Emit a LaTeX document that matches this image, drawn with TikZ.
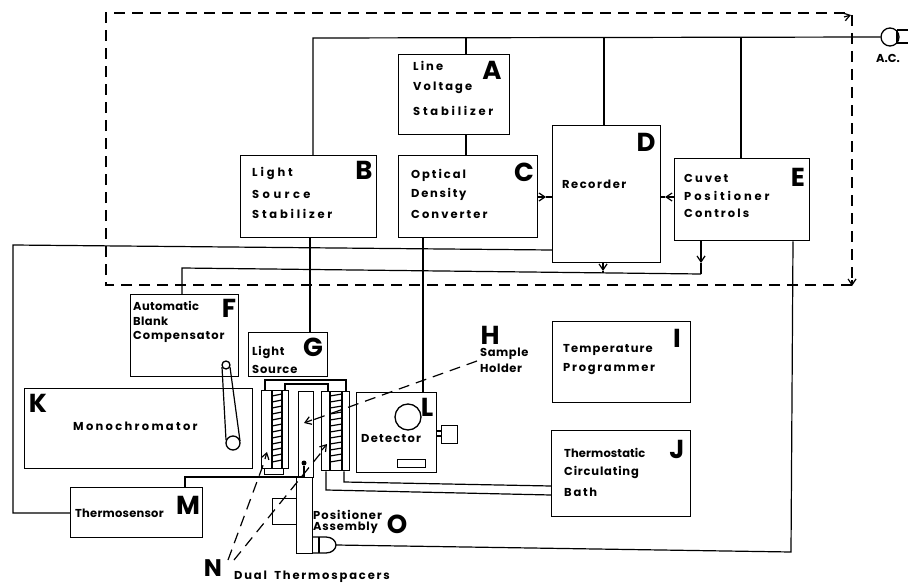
\documentclass[tikz,border=0pt]{standalone}
\usepackage{fontspec}
\setmainfont{Poppins}
\newfontfamily\bigfont{Poppins}
\usetikzlibrary{arrows.meta}
\tikzset{
  box/.style={draw,line width=1.3pt,rectangle,inner sep=0pt,anchor=north west},
  wire/.style={line width=1.2pt},
  dash line/.style={line width=1.2pt,dash pattern=on 11pt off 7pt},
  tip/.style={-{Straight Barb[length=6pt,width=8pt,line width=1.2pt]}},
  lab/.style={anchor=west,inner sep=0pt,font=\fontsize{11.5}{13}\selectfont\bfseries\addfontfeature{LetterSpace=#1}},
  lbl/.style={inner sep=0pt,font=\bigfont\fontsize{26}{26}\selectfont\bfseries}
}
\newcommand{\bx}[5]{\node[box,minimum width={(#4-#2)*1pt},minimum height={(#5-#3)*1pt}] (#1) at (#2,#3) {};}
\begin{document}
\begin{tikzpicture}[x=1pt,y=-1pt]
\useasboundingbox (0,0) rectangle (908,586);
% boxes
\bx{A}{398}{54}{509}{134}
\bx{B}{240}{155}{376}{237}
\bx{C}{398}{155}{537}{237}
\bx{D}{552}{125}{660}{262}
\bx{E}{674}{158}{809}{240}
\bx{F}{130}{294}{238}{376}
\bx{G}{248}{332}{327}{376}
\bx{I}{552}{321}{690}{402}
\bx{J}{551}{430}{690}{516}
\bx{K}{24}{388}{252}{468}
\bx{L}{356}{392}{436}{472}
\bx{M}{70}{487}{202}{537}
\bx{LH}{261}{390}{288}{468}
\bx{RH}{321}{391}{349}{470}
\bx{LF}{264}{468}{283}{474}
\bx{HU}{298}{391}{313}{477}
\bx{PA}{296}{477}{312}{553}
\bx{PS}{272}{498}{296}{524}
\bx{DS}{441}{425}{457}{443}
\bx{DW}{397}{459}{425}{467}
\node[draw,circle,line width=1.3pt,minimum size=26pt,inner sep=0pt] (DC) at (408,417) {};
\node[draw,circle,line width=1.3pt,minimum size=18pt,inner sep=0pt] (AC) at (890,37) {};
\node[draw,circle,line width=1.3pt,minimum size=8pt,inner sep=0pt] (PU) at (226,365) {};
\node[draw,circle,line width=1.3pt,minimum size=14pt,inner sep=0pt] (PD) at (233,443) {};
\node[fill,circle,minimum size=5pt,inner sep=0pt] (dot) at (304,463) {};
% coils
\draw[line width=1.2pt] (272,391) -- (272,468) (282,391) -- (282,468);
\draw[line width=1.2pt] (330,392) -- (330,470) (342,392) -- (342,470);
\foreach \yy in {395,401,...,465}{
  \draw[line width=1.2pt] (272,\yy+1) -- (282,\yy-1);
  \draw[line width=1.2pt] (330,\yy+1) -- (342,\yy-1);
}
% link belt
\draw[line width=1.2pt] (222,367) -- (226,440) (230,367) -- (240,441);
% power bus
\coordinate (bus) at (313,38);
\draw[wire] (B.north -| bus) -- (bus) -- (AC.west);
\draw[wire] (466,0 |- bus) -- (466,0 |- A.north);
\draw[wire] (604,0 |- bus) -- (604,0 |- D.north);
\draw[wire] (741,0 |- bus) -- (741,0 |- E.north);
\draw[wire] (897,30) -- (908,30) (897,43) -- (908,43) (897,30) -- (897,43);
% links
\draw[wire] (466,0 |- A.south) -- (466,0 |- C.north);
\draw[wire] (310,0 |- B.south) -- (310,0 |- G.north);
\draw[wire] (423,0 |- C.south) -- (423,0 |- L.north);
\draw[wire,tip] (C.east |- 0,197) -- (546,197);
\draw[wire] (546,197) -- (D.west |- 0,197);
\draw[wire,tip] (E.west |- 0,197) -- (665,197);
\draw[wire] (665,197) -- (D.east |- 0,197);
\draw[wire] (D.west |- 0,250) -- (13,245) -- (13,513) -- (M.west |- 0,513);
\coordinate (ftop) at (182,268);
\draw[wire] (182,0 |- F.north) -- (ftop) -- (701,274);
\draw[wire,tip] (701,0 |- E.south) -- (701,263);
\draw[wire] (701,263) -- (701,274);
\draw[wire,tip] (603,0 |- D.south) -- (603,271);
\draw[wire] (603,271) -- (603,273);
\draw[wire] (793,0 |- E.south) -- (791,552) -- (336,545);
% heater wiring
\draw[wire] (265,0 |- LH.north) -- (265,380) -- (346,380) -- (346,0 |- RH.north);
\draw[wire] (285,0 |- LH.north) -- (285,384) -- (328,384) -- (328,0 |- RH.north);
\draw[wire] (344,0 |- RH.south) -- (344,482) -- (J.west |- 0,486);
\draw[wire] (326,0 |- RH.south) -- (326,490) -- (J.west |- 0,495);
\draw[wire] (185,0 |- M.north) -- (185,477) -- (304,477) -- (dot);
% detector stub
\draw[wire] (L.east |- 0,431) -- (DS.west |- 0,431) (L.east |- 0,436) -- (DS.west |- 0,436);
% motor
\draw[line width=1.3pt] (312,537) -- (326,537) .. controls (332,537) and (336,541) .. (336,545) .. controls (336,549) and (332,553) .. (326,553) -- (312,553);
\draw[line width=1.3pt] (319,537) -- (319,553);
% dashed enclosure
\draw[dash line] (852,285) -- (106,285) -- (106,13) -- (852,13);
\draw[dash line] (852,15) -- (852,285);
\draw[wire,tip] (844,17) -- (851,15);
\draw[wire,tip] (852,280) -- (852,286);
% dashed pointers
\draw[dash line] (477,361) -- (310,421);
\draw[wire,tip] (312,420) -- (304,423);
\draw[dash line] (228,560) -- (265,460);
\draw[wire,tip] (265,459) -- (267,452);
\draw[dash line] (234,560) -- (324,449);
\draw[wire,tip] (322,450) -- (327,444);
% box letters
\node[lbl] (tA) at (492,70) {A};
\node[lbl] (tB) at (364,170) {B};
\node[lbl] (tC) at (524,172) {C};
\node[lbl] (tD) at (646,142) {D};
\node[lbl] (tE) at (798,177) {E};
\node[lbl] (tF) at (229,308) {F};
\node[lbl] (tG) at (313,347) {G};
\node[lbl] (tH) at (490,335) {H};
\node[lbl] (tI) at (677,338) {I};
\node[lbl] (tJ) at (677,449) {J};
\node[lbl] (tK) at (38,403) {K};
\node[lbl] (tL) at (427,407) {L};
\node[lbl] (tM) at (188,505) {M};
\node[lbl,font=\bigfont\fontsize{24}{24}\selectfont\bfseries] (tN) at (213,568) {N};
\node[lbl] (tO) at (397,524) {O};
% labels
\node[lab=18] (a1) at (413,66) {Line};
\node[lab=18] (a2) at (413,88) {Voltage};
\node[lab=24] (a3) at (413,111) {Stabilizer};
\node[lab=25] (b1) at (252,173) {Light};
\node[lab=30] (b2) at (252,194) {Source};
\node[lab=24] (b3) at (252,214) {Stabilizer};
\node[lab=17] (c1) at (411,175) {Optical};
\node[lab=15] (c2) at (411,194) {Density};
\node[lab=18] (c3) at (411,214) {Converter};
\node[lab=13] (d1) at (562,184) {Recorder};
\node[lab=19] (e1) at (684,178) {Cuvet};
\node[lab=25] (e2) at (684,196) {Positioner};
\node[lab=18] (e3) at (684,213) {Controls};
\node[lab=3] (f1) at (133,306) {Automatic};
\node[lab=3] (f2) at (133,321) {Blank};
\node[lab=8] (f3) at (133,337) {Compensator};
\node[lab=7] (g1) at (252,352) {Light};
\node[lab=7] (g2) at (252,369) {Source};
\node[lab=5] (h1) at (480,354) {Sample};
\node[lab=5] (h2) at (480,368) {Holder};
\node[lab=10] (i1) at (563,350) {Temperature};
\node[lab=15] (i2) at (563,369) {Programmer};
\node[lab=1] (j1) at (564,453) {Thermostatic};
\node[lab=7] (j2) at (564,472) {Circulating};
\node[lab=15] (j3) at (564,492) {Bath};
\node[lab=20] (k1) at (73,426) {Monochromator};
\node[lab=11] (l1) at (361,439) {Detector};
\node[lab=2] (m1) at (75,513) {Thermosensor};
\node[lab=16] (n1) at (234,577) {Dual\hspace{3pt} Thermospacers};
\node[lab=9] (o1) at (313,515) {Positioner};
\node[lab=7] (o2) at (313,528) {Assembly};
\node[lab=0] (ac) at (876,58) {A.C.};
\end{tikzpicture}
\end{document}
